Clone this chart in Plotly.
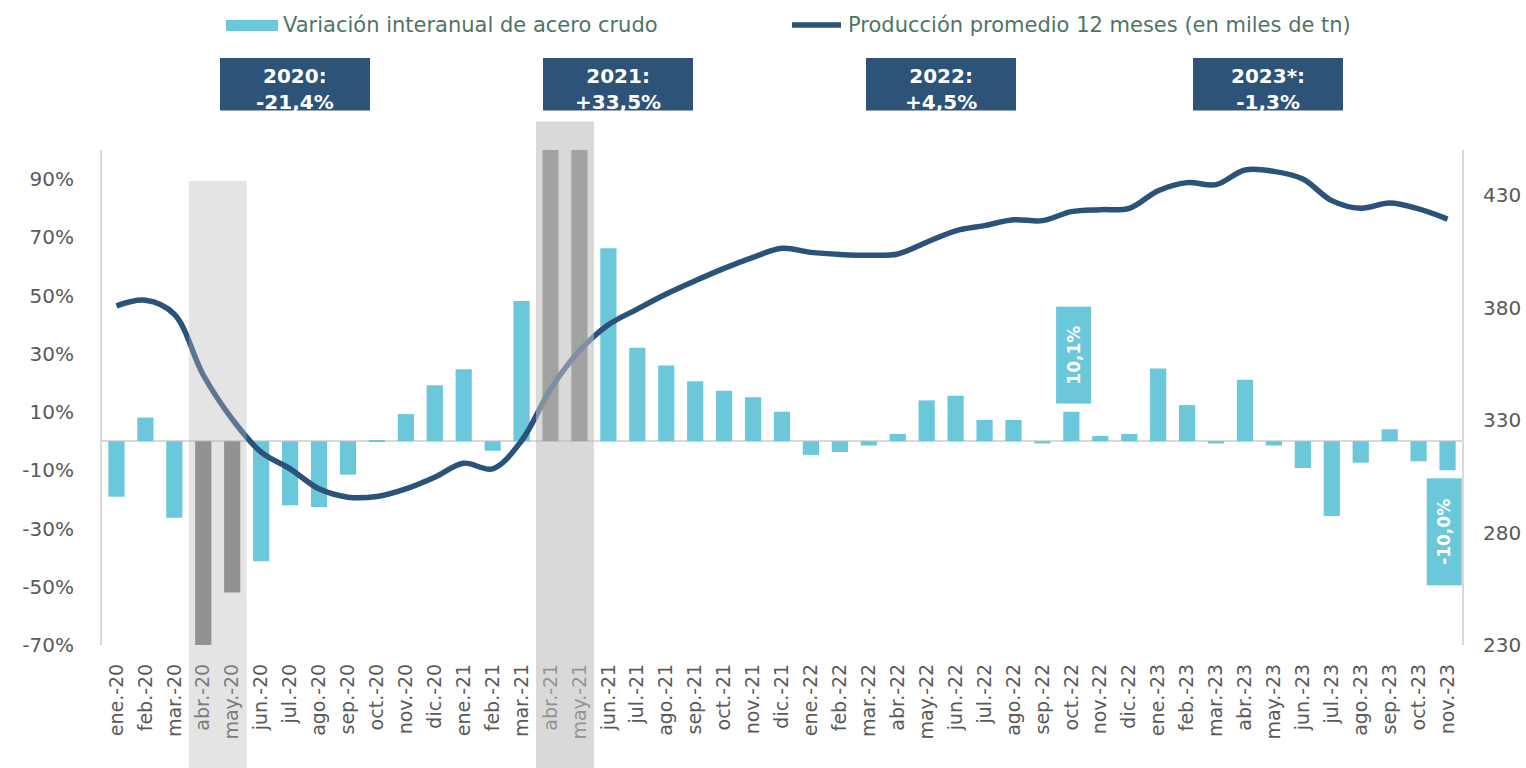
import plotly.graph_objects as go

categories = [
    "ene.-20", "feb.-20", "mar.-20", "abr.-20", "may.-20", "jun.-20", "jul.-20", "ago.-20", "sep.-20", "oct.-20", "nov.-20", "dic.-20",
    "ene.-21", "feb.-21", "mar.-21", "abr.-21", "may.-21", "jun.-21", "jul.-21", "ago.-21", "sep.-21", "oct.-21", "nov.-21", "dic.-21",
    "ene.-22", "feb.-22", "mar.-22", "abr.-22", "may.-22", "jun.-22", "jul.-22", "ago.-22", "sep.-22", "oct.-22", "nov.-22", "dic.-22",
    "ene.-23", "feb.-23", "mar.-23", "abr.-23", "may.-23", "jun.-23", "jul.-23", "ago.-23", "sep.-23", "oct.-23", "nov.-23",
]

# Variación interanual de acero crudo (%)
variacion = [
    -19.1, 8.1, -26.3, -71.0, -52.0, -41.2, -22.0, -22.6, -11.5, 0.3, 9.3, 19.2,
    24.7, -3.3, 48.1, 250.0, 160.0, 66.3, 32.1, 26.0, 20.6, 17.3, 15.1, 10.1,
    -4.7, -3.7, -1.5, 2.5, 14.0, 15.6, 7.3, 7.3, -0.8, 10.1, 1.8, 2.5,
    25.0, 12.4, -0.8, 21.1, -1.5, -9.2, -25.7, -7.4, 4.1, -6.9, -10.0,
]

# Producción promedio 12 meses (miles de tn)
produccion = [
    380.7, 383.2, 377.0, 350.0, 330.4, 315.7, 308.3, 299.4, 295.7, 296.0, 299.4, 304.6,
    310.8, 308.3, 320.8, 343.7, 360.7, 372.3, 379.3, 386.0, 391.9, 397.4, 402.3, 406.3,
    404.5, 403.6, 403.2, 403.8, 409.0, 414.1, 416.4, 419.0, 418.6, 422.6, 423.5, 424.1,
    431.9, 435.5, 434.6, 441.1, 440.5, 437.1, 427.5, 424.1, 426.4, 423.8, 419.3,
]

highlighted = ["abr.-20", "may.-20", "abr.-21", "may.-21"]
labelled = ["oct.-22", "nov.-23"]

year_labels = ["2020:<br>-21,4%", "2021:<br>+33,5%", "2022:<br>+4,5%", "2023*:<br>-1,3%"]
year_box_left_px = [220, 543, 866, 1193]

left_ticks = [-70, -50, -30, -10, 10, 30, 50, 70, 90]
right_ticks = [230, 280, 330, 380, 430]

CYAN = "#6bc8da"
GREY_BAR = "#7d7d7d"
NAVY = "#2b5279"
BOX = "#2d5378"
TXT = "#595959"
LEG = "#4f7466"
FONT = "DejaVu Sans"

W, H = 1526, 768
L, R, T, B = 102, 64, 150, 123
PW, PH = W - L - R, H - T - B


def px_x(p):
    return (p - L) / PW


def px_y(p):
    return (H - B - p) / PH


bar_colors = [GREY_BAR if c in highlighted else CYAN for c in categories]

fig = go.Figure()
fig.add_trace(go.Bar(
    x=categories, y=variacion, marker=dict(color=bar_colors, line=dict(width=0)),
    width=0.56, name="Variación interanual de acero crudo", showlegend=False,
))
fig.add_trace(go.Scatter(
    x=categories, y=produccion, yaxis="y2", mode="lines",
    line=dict(color=NAVY, width=5.5, shape="spline", smoothing=1.0),
    name="Producción promedio 12 meses (en miles de tn)", showlegend=False,
))

shapes = []
# shaded periods (drawn above everything, semi-transparent)
shapes.append(dict(type="rect", xref="x", yref="paper", x0=2.5, x1=4.5,
                   y0=px_y(768), y1=px_y(181), layer="above",
                   fillcolor="rgba(182,182,182,0.37)", line=dict(width=0)))
shapes.append(dict(type="rect", xref="x", yref="paper", x0=14.5, x1=16.5,
                   y0=px_y(768), y1=px_y(121), layer="above",
                   fillcolor="rgba(190,190,190,0.58)", line=dict(width=0)))
# year boxes
for lx in year_box_left_px:
    shapes.append(dict(type="rect", xref="paper", yref="paper",
                       x0=px_x(lx), x1=px_x(lx + 150), y0=px_y(111), y1=px_y(58),
                       fillcolor=BOX, line=dict(width=0), layer="above"))
# legend swatches
shapes.append(dict(type="rect", xref="paper", yref="paper",
                   x0=px_x(226), x1=px_x(278), y0=px_y(31), y1=px_y(20),
                   fillcolor=CYAN, line=dict(width=0)))
shapes.append(dict(type="line", xref="paper", yref="paper",
                   x0=px_x(792), x1=px_x(841), y0=px_y(25), y1=px_y(25),
                   line=dict(color=NAVY, width=5.5)))

annotations = []
annotations.append(dict(xref="paper", yref="paper", x=px_x(281), y=px_y(25),
                        text="Variación interanual de acero crudo", showarrow=False,
                        xanchor="left", yanchor="middle",
                        font=dict(family=FONT, size=21, color=LEG)))
annotations.append(dict(xref="paper", yref="paper", x=px_x(846), y=px_y(25),
                        text="Producción promedio 12 meses (en miles de tn)", showarrow=False,
                        xanchor="left", yanchor="middle",
                        font=dict(family=FONT, size=21, color=LEG)))
for lx, txt in zip(year_box_left_px, year_labels):
    annotations.append(dict(xref="paper", yref="paper", x=px_x(lx + 75), y=px_y(89),
                            text="<b>" + txt + "</b>", showarrow=False,
                            xanchor="center", yanchor="middle",
                            font=dict(family=FONT, size=20, color="white")))
# white strips clipping the bottom of the year boxes
for lx in year_box_left_px:
    annotations.append(dict(xref="paper", yref="paper", x=px_x(lx + 75), y=px_y(116),
                            text=" ", showarrow=False, xanchor="center", yanchor="middle",
                            width=160, height=10, bgcolor="white", borderpad=0,
                            font=dict(size=4)))

# data labels
for cat in labelled:
    i = categories.index(cat)
    v = variacion[i]
    txt = f"{v:.1f}%".replace(".", ",")
    shift = 57 if v >= 0 else -62
    xs = 2 if v >= 0 else -3
    annotations.append(dict(x=cat, y=v, xref="x", yref="y", text="<b>" + txt + "</b>",
                            showarrow=False, textangle=-90, yshift=shift, xshift=xs,
                            bgcolor=CYAN, width=42 + 10 * len(txt), height=30, borderpad=2,
                            xanchor="center", yanchor="middle",
                            font=dict(family=FONT, size=17, color="white")))

fig.update_layout(
    width=W, height=H,
    margin=dict(l=L, r=R, t=T, b=B, pad=0, autoexpand=False),
    paper_bgcolor="white", plot_bgcolor="white",
    showlegend=False,
    shapes=shapes, annotations=annotations,
    xaxis=dict(type="category", range=[-0.5, len(categories) - 0.5], tickangle=-90,
               showgrid=False, showline=False, zeroline=False, ticks="",
               automargin=False, ticklabelstandoff=14,
               tickfont=dict(family=FONT, size=19, color=TXT)),
    yaxis=dict(range=[-70, 100], tickvals=left_ticks,
               ticktext=[f"{t}%" for t in left_ticks],
               showgrid=False, zeroline=True, zerolinecolor="#d9d9d9", zerolinewidth=2,
               showline=True, linecolor="#d9d9d9", linewidth=2, ticks="",
               automargin=False, ticklabelstandoff=22,
               tickfont=dict(family=FONT, size=20, color=TXT)),
    yaxis2=dict(range=[230, 450], tickvals=right_ticks, overlaying="y", side="right",
                showgrid=False, zeroline=False, showline=True, linecolor="#d9d9d9",
                linewidth=2, ticks="", automargin=False, ticklabelstandoff=15,
                tickfont=dict(family=FONT, size=20, color=TXT)),
)

fig.write_html("out.html", config={"displayModeBar": False},
               post_script="document.body.style.margin='0';")
